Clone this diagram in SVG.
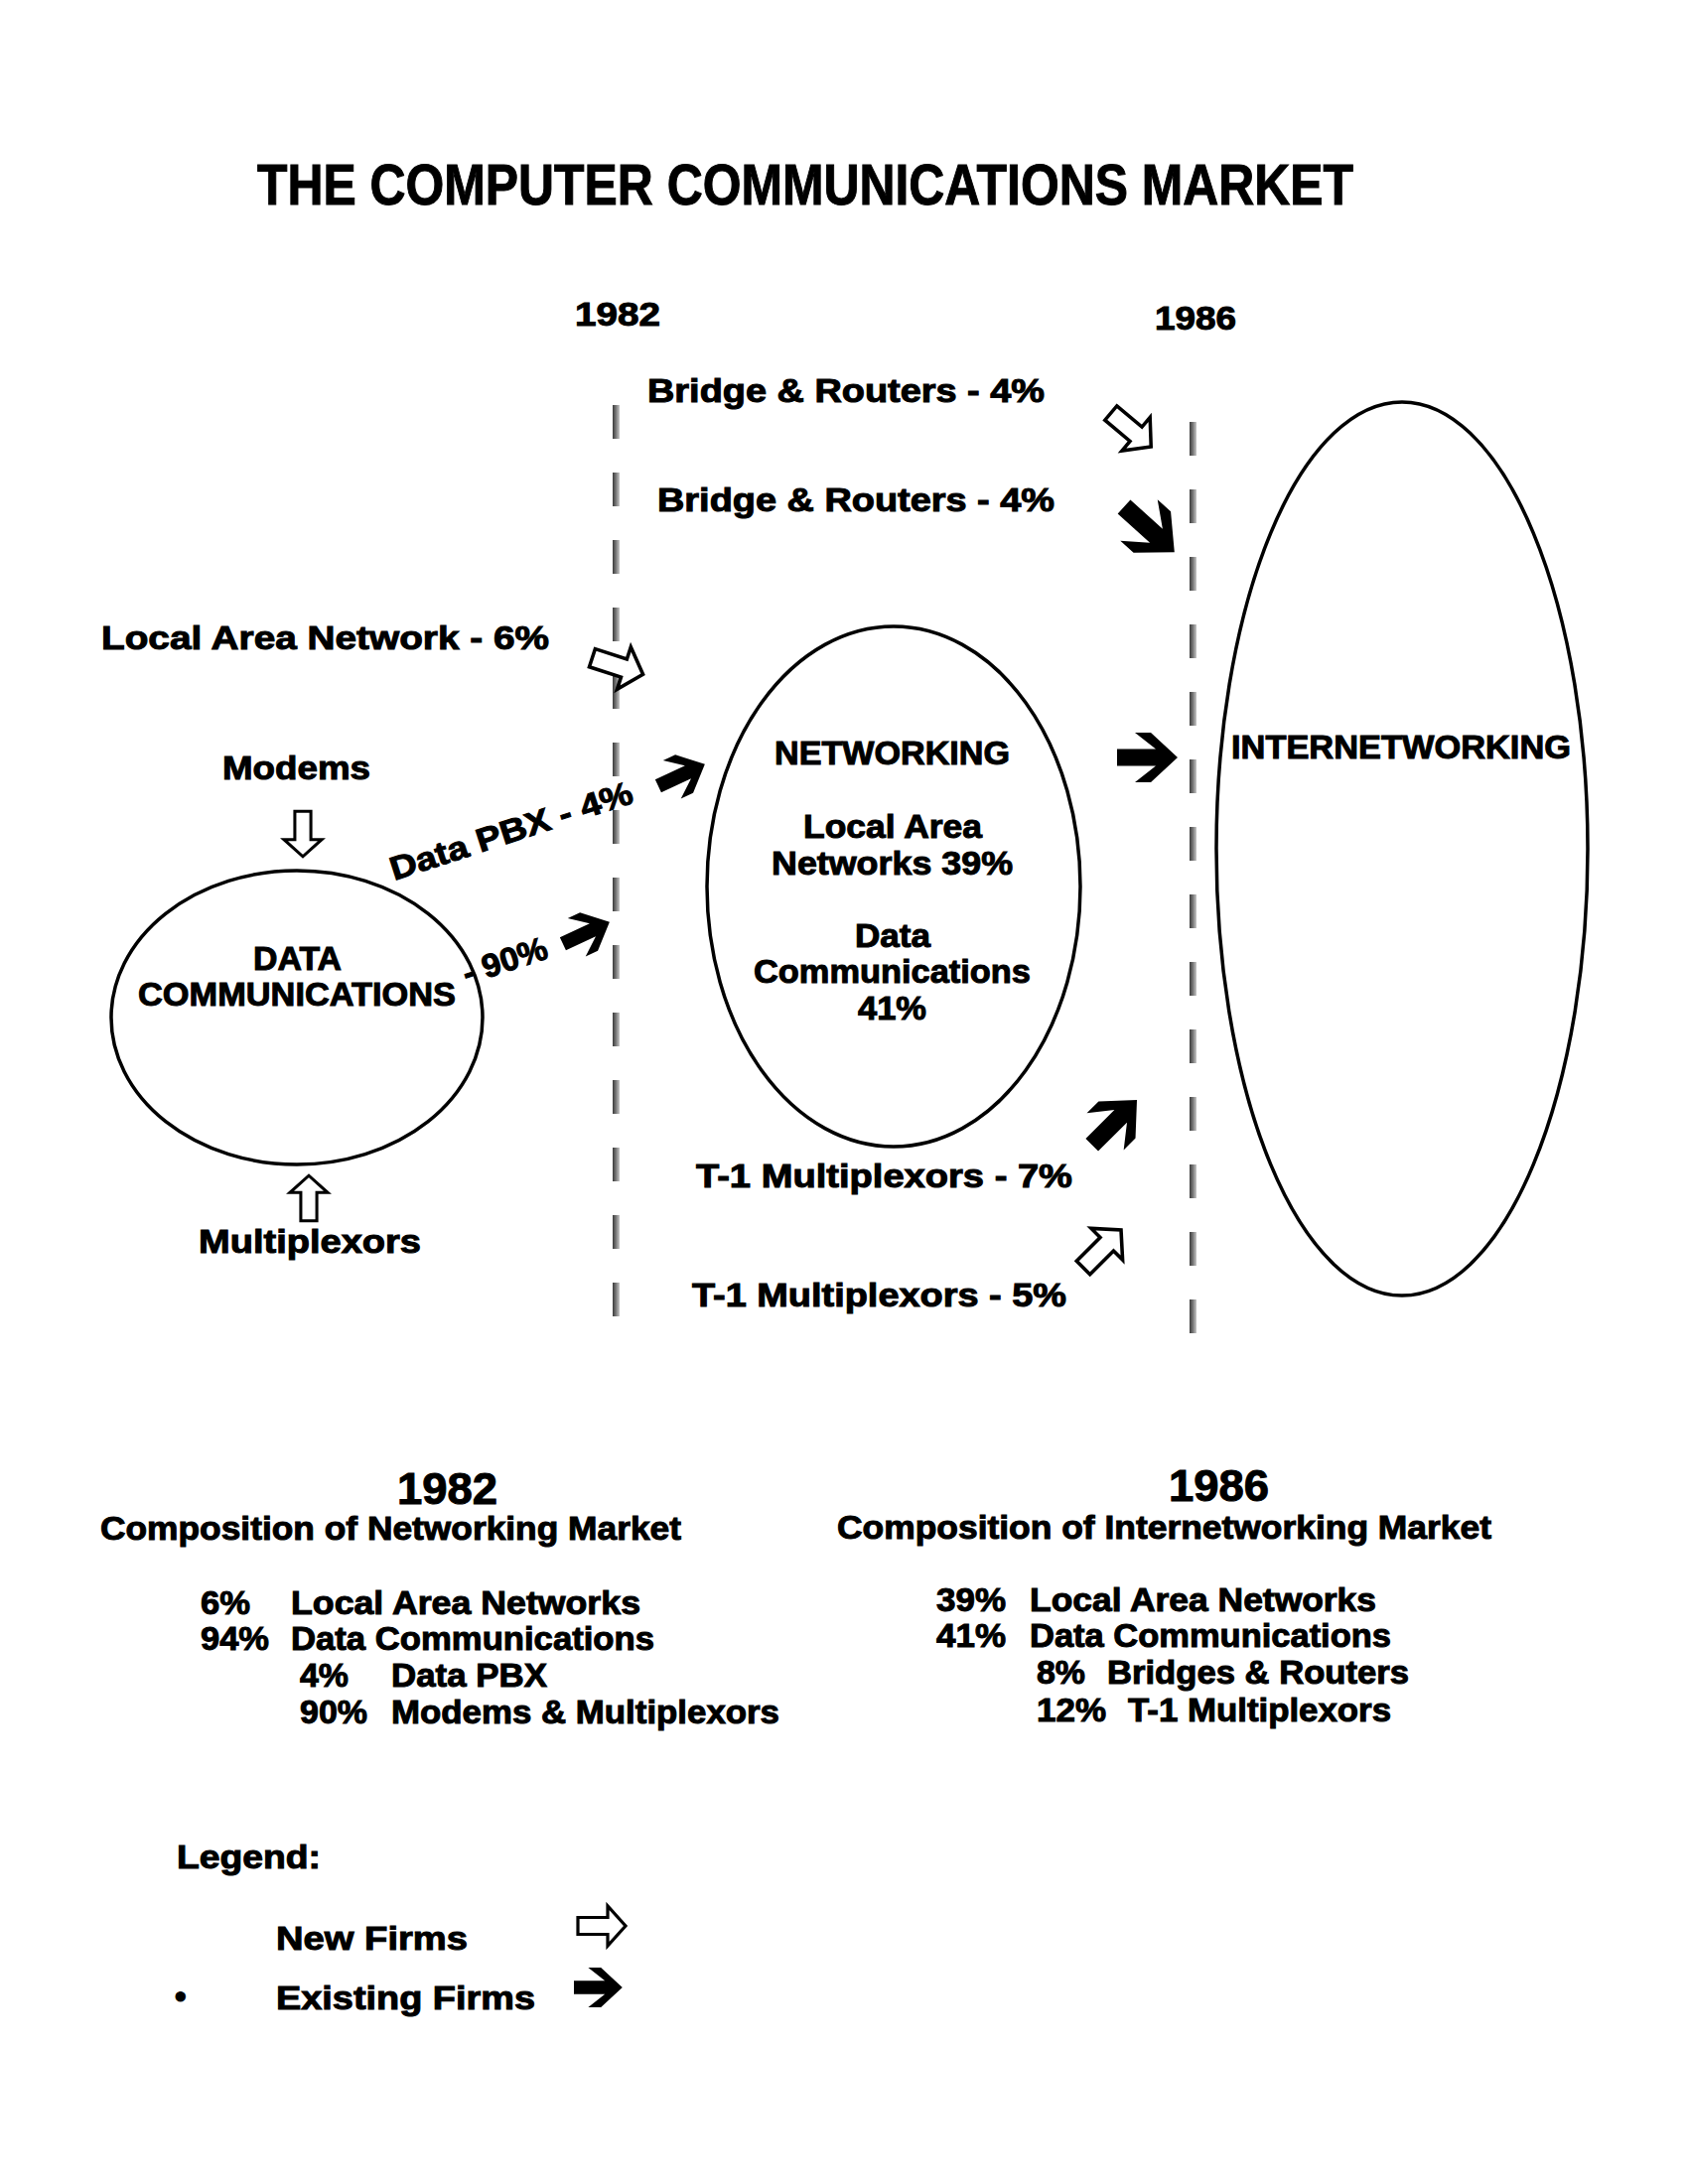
<svg xmlns="http://www.w3.org/2000/svg" xmlns:xlink="http://www.w3.org/1999/xlink" width="1700" height="2200" viewBox="0 0 1700 2200">
<style>
text{font-family:"Liberation Sans",Arial,sans-serif;font-weight:bold;fill:#000;stroke:#000;stroke-width:1}
.t{font-size:33px}
.node{fill:#fff;stroke:#000;stroke-width:3.5}
.blk{fill:#000}
.hol{fill:#fff;stroke:#000;stroke-width:3.2;stroke-linejoin:miter}
.dash{fill:url(#dg)}
</style>
<defs>
<linearGradient id="dg" x1="0" y1="0" x2="1" y2="0">
<stop offset="0" stop-color="#3a3a3a"/>
<stop offset="0.5" stop-color="#7a7a7a"/>
<stop offset="1" stop-color="#c8c8c8"/>
</linearGradient>
<path id="ba" d="M-30,-8.5 L9,-8.5 L-12,-25 L4,-25 L31,0 L4,25 L-12,25 L9,8.5 L-30,8.5 Z"/>
<path id="ha" d="M-24,-8.5 L6,-8.5 L6,-20 L24,0 L6,20 L6,8.5 L-24,8.5 Z"/>
</defs>
<rect width="1700" height="2200" fill="#fff"/>

<text x="259" y="206" font-size="58" stroke-width="1.5" textLength="1104" lengthAdjust="spacingAndGlyphs">THE COMPUTER COMMUNICATIONS MARKET</text>
<text x="579" y="328" font-size="34" textLength="86" lengthAdjust="spacingAndGlyphs">1982</text>
<text x="1163" y="332" font-size="34" textLength="82" lengthAdjust="spacingAndGlyphs">1986</text>

<g id="timelines">
<g id="line1982">
<rect class="dash" x="617" y="408" width="7" height="34"/>
<rect class="dash" x="617" y="476" width="7" height="34"/>
<rect class="dash" x="617" y="544" width="7" height="34"/>
<rect class="dash" x="617" y="612" width="7" height="34"/>
<rect class="dash" x="617" y="680" width="7" height="34"/>
<rect class="dash" x="617" y="748" width="7" height="34"/>
<rect class="dash" x="617" y="816" width="7" height="34"/>
<rect class="dash" x="617" y="884" width="7" height="34"/>
<rect class="dash" x="617" y="952" width="7" height="34"/>
<rect class="dash" x="617" y="1020" width="7" height="34"/>
<rect class="dash" x="617" y="1088" width="7" height="34"/>
<rect class="dash" x="617" y="1156" width="7" height="34"/>
<rect class="dash" x="617" y="1224" width="7" height="34"/>
<rect class="dash" x="617" y="1292" width="7" height="34"/>
</g>
<g id="line1986">
<rect class="dash" x="1198" y="425" width="7" height="34"/>
<rect class="dash" x="1198" y="493" width="7" height="34"/>
<rect class="dash" x="1198" y="561" width="7" height="34"/>
<rect class="dash" x="1198" y="629" width="7" height="34"/>
<rect class="dash" x="1198" y="697" width="7" height="34"/>
<rect class="dash" x="1198" y="765" width="7" height="34"/>
<rect class="dash" x="1198" y="833" width="7" height="34"/>
<rect class="dash" x="1198" y="901" width="7" height="34"/>
<rect class="dash" x="1198" y="969" width="7" height="34"/>
<rect class="dash" x="1198" y="1037" width="7" height="34"/>
<rect class="dash" x="1198" y="1105" width="7" height="34"/>
<rect class="dash" x="1198" y="1173" width="7" height="34"/>
<rect class="dash" x="1198" y="1241" width="7" height="34"/>
<rect class="dash" x="1198" y="1309" width="7" height="34"/>
</g>
</g>

<g id="datacomm">
<ellipse class="node" cx="299" cy="1025" rx="187" ry="148"/>
<text x="255" y="977" class="t" textLength="89" lengthAdjust="spacingAndGlyphs">DATA</text>
<text x="139" y="1013" class="t" textLength="320" lengthAdjust="spacingAndGlyphs">COMMUNICATIONS</text>
</g>

<g id="networking">
<ellipse class="node" cx="900" cy="893" rx="188" ry="262"/>
<text x="780" y="770" class="t" textLength="237" lengthAdjust="spacingAndGlyphs">NETWORKING</text>
<text x="809" y="844" class="t" textLength="180" lengthAdjust="spacingAndGlyphs">Local Area</text>
<text x="777" y="881" class="t" textLength="243" lengthAdjust="spacingAndGlyphs">Networks 39%</text>
<text x="861" y="954" class="t" textLength="76" lengthAdjust="spacingAndGlyphs">Data</text>
<text x="759" y="990" class="t" textLength="279" lengthAdjust="spacingAndGlyphs">Communications</text>
<text x="864" y="1027" class="t" textLength="69" lengthAdjust="spacingAndGlyphs">41%</text>
</g>

<g id="internetworking">
<ellipse class="node" cx="1412" cy="855" rx="187" ry="450"/>
<text x="1240" y="764" class="t" textLength="342" lengthAdjust="spacingAndGlyphs">INTERNETWORKING</text>
</g>

<g id="labels">
<text x="652" y="405" class="t" textLength="400" lengthAdjust="spacingAndGlyphs">Bridge &amp; Routers - 4%</text>
<text x="662" y="515" class="t" textLength="400" lengthAdjust="spacingAndGlyphs">Bridge &amp; Routers - 4%</text>
<text x="102" y="654" class="t" textLength="451" lengthAdjust="spacingAndGlyphs">Local Area Network - 6%</text>
<text x="224" y="785" class="t" textLength="149" lengthAdjust="spacingAndGlyphs">Modems</text>
<text x="200" y="1262" class="t" textLength="224" lengthAdjust="spacingAndGlyphs">Multiplexors</text>
<text x="0" y="0" class="t" transform="translate(397,887) rotate(-18)" textLength="255" lengthAdjust="spacingAndGlyphs">Data PBX - 4%</text>
<text x="0" y="0" class="t" transform="translate(470,992) rotate(-18)" textLength="88" lengthAdjust="spacingAndGlyphs">- 90%</text>
<text x="701" y="1196" class="t" textLength="379" lengthAdjust="spacingAndGlyphs">T-1 Multiplexors - 7%</text>
<text x="697" y="1316" class="t" textLength="377" lengthAdjust="spacingAndGlyphs">T-1 Multiplexors - 5%</text>
</g>

<g id="connectors">
<use xlink:href="#ha" class="hol" transform="translate(1139,433) rotate(40) scale(1.1)"/>
<use xlink:href="#ba" class="blk" transform="translate(1157,533) rotate(42) scale(1.12)"/>
<use xlink:href="#ha" class="hol" transform="translate(622,671) rotate(18) scale(1.12)"/>
<use xlink:href="#ha" class="hol" transform="translate(305,840) rotate(90) scale(0.95)"/>
<use xlink:href="#ha" class="hol" transform="translate(311,1207) rotate(-90) scale(0.95)"/>
<use xlink:href="#ba" class="blk" transform="translate(686,781) rotate(-25) scale(0.85)"/>
<use xlink:href="#ba" class="blk" transform="translate(590,940) rotate(-25) scale(0.85)"/>
<use xlink:href="#ba" class="blk" transform="translate(1155,763) scale(1)"/>
<use xlink:href="#ba" class="blk" transform="translate(1122,1131) rotate(-45) scale(1.05)"/>
<use xlink:href="#ha" class="hol" transform="translate(1110,1258) rotate(-45) scale(1.12)"/>
</g>

<g id="summary1982">
<text x="400" y="1515" font-size="44" textLength="101" lengthAdjust="spacingAndGlyphs">1982</text>
<text x="101" y="1551" class="t" textLength="585" lengthAdjust="spacingAndGlyphs">Composition of Networking Market</text>
<text x="202" y="1626" class="t" textLength="50" lengthAdjust="spacingAndGlyphs">6%</text>
<text x="293" y="1626" class="t" textLength="352" lengthAdjust="spacingAndGlyphs">Local Area Networks</text>
<text x="202" y="1662" class="t" textLength="69" lengthAdjust="spacingAndGlyphs">94%</text>
<text x="293" y="1662" class="t" textLength="366" lengthAdjust="spacingAndGlyphs">Data Communications</text>
<text x="302" y="1699" class="t" textLength="49" lengthAdjust="spacingAndGlyphs">4%</text>
<text x="394" y="1699" class="t" textLength="157" lengthAdjust="spacingAndGlyphs">Data PBX</text>
<text x="302" y="1736" class="t" textLength="68" lengthAdjust="spacingAndGlyphs">90%</text>
<text x="394" y="1736" class="t" textLength="391" lengthAdjust="spacingAndGlyphs">Modems &amp; Multiplexors</text>
</g>

<g id="summary1986">
<text x="1177" y="1512" font-size="44" textLength="101" lengthAdjust="spacingAndGlyphs">1986</text>
<text x="843" y="1550" class="t" textLength="659" lengthAdjust="spacingAndGlyphs">Composition of Internetworking Market</text>
<text x="943" y="1623" class="t" textLength="70" lengthAdjust="spacingAndGlyphs">39%</text>
<text x="1037" y="1623" class="t" textLength="349" lengthAdjust="spacingAndGlyphs">Local Area Networks</text>
<text x="943" y="1659" class="t" textLength="70" lengthAdjust="spacingAndGlyphs">41%</text>
<text x="1037" y="1659" class="t" textLength="364" lengthAdjust="spacingAndGlyphs">Data Communications</text>
<text x="1044" y="1696" class="t" textLength="49" lengthAdjust="spacingAndGlyphs">8%</text>
<text x="1115" y="1696" class="t" textLength="304" lengthAdjust="spacingAndGlyphs">Bridges &amp; Routers</text>
<text x="1044" y="1734" class="t" textLength="70" lengthAdjust="spacingAndGlyphs">12%</text>
<text x="1136" y="1734" class="t" textLength="265" lengthAdjust="spacingAndGlyphs">T-1 Multiplexors</text>
</g>

<g id="legend">
<text x="178" y="1882" class="t" textLength="145" lengthAdjust="spacingAndGlyphs">Legend:</text>
<text x="278" y="1964" class="t" textLength="193" lengthAdjust="spacingAndGlyphs">New Firms</text>
<use xlink:href="#ha" class="hol" transform="translate(606,1940)"/>
<text x="176" y="2022" class="t">•</text>
<text x="278" y="2024" class="t" textLength="261" lengthAdjust="spacingAndGlyphs">Existing Firms</text>
<use xlink:href="#ba" class="blk" transform="translate(602,2002) scale(0.8)"/>
</g>
</svg>
